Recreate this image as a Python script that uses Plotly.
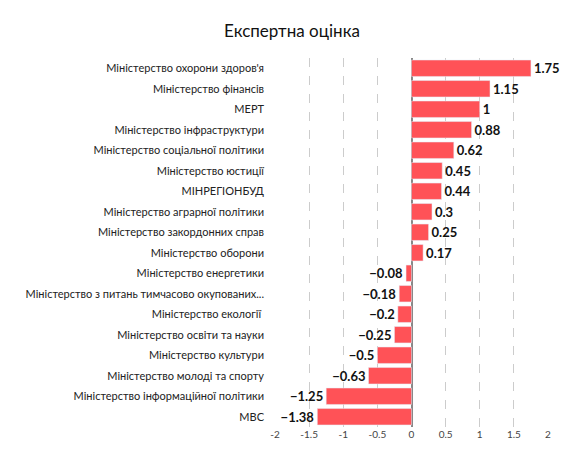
import plotly.graph_objects as go

categories = ["Міністерство охорони здоров'я", "Міністерство фінансів", "МЕРТ",
    "Міністерство інфраструктури", "Міністерство соціальної політики", "Міністерство юстиції",
    "МІНРЕГІОНБУД", "Міністерство аграрної політики", "Міністерство закордонних справ",
    "Міністерство оборони", "Міністерство енергетики", "Міністерство з питань тимчасово окупованих...",
    "Міністерство екології ", "Міністерство освіти та науки", "Міністерство культури",
    "Міністерство молоді та спорту", "Міністерство інформаційної політики", "МВС"]
values = [1.75, 1.15, 1, 0.88, 0.62, 0.45, 0.44, 0.3, 0.25, 0.17, -0.08, -0.18, -0.2, -0.25, -0.5, -0.63, -1.25, -1.38]
tick_vals = [-2, -1.5, -1, -0.5, 0, 0.5, 1, 1.5, 2]
tick_text = ["-2", "-1.5", "-1", "-0.5", "0", "0.5", "1", "1.5", "2"]

labels = [("−" + f"{abs(v):g}") if v < 0 else f"{v:g}" for v in values]

fig = go.Figure(go.Bar(
    y=categories, x=values, orientation="h", marker_color="#ff5257",
    text=["<b>" + l + "</b>" for l in labels], textposition="outside",
    textfont=dict(size=13, color="#111", family="Lato"), cliponaxis=False,
    width=0.8,
))
fig.update_layout(
    width=568, height=455, margin=dict(l=267, r=28, t=50, b=36),
    plot_bgcolor="white", paper_bgcolor="white", showlegend=False,
    font=dict(family="Lato", size=11, color="#222"),
    title=dict(text="Експертна оцінка", x=0.5, xref="container", xanchor="center",
               y=0.95, yanchor="middle",
               font=dict(size=17, color="#111", family="Lato")),
    xaxis=dict(range=[-2, 2], tickvals=tick_vals, ticktext=tick_text, showgrid=True,
               gridcolor="#cccccc", griddash="dash", zeroline=True, zerolinecolor="#888",
               zerolinewidth=1.5, tickfont=dict(size=10, color="#444")),
    yaxis=dict(autorange="reversed", ticklabelstandoff=10, tickfont=dict(size=11)),
)
fig.write_html("out.html")
